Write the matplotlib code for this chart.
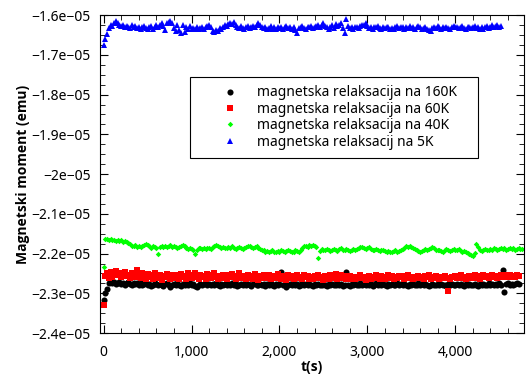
import numpy as np
import matplotlib
matplotlib.use("Agg")
import matplotlib.pyplot as plt
from matplotlib.ticker import FuncFormatter, MultipleLocator

plt.rcParams['font.family'] = ['Noto Sans', 'DejaVu Sans']
plt.rcParams['font.size'] = 10

# sampling step of the measurement, seconds
t_step = 20

labels = ["magnetska relaksacija na 160K", "magnetska relaksacija na 60K",
          "magnetska relaksacija na 40K", "magnetska relaksacij na 5K"]

# values in units of 1e-5 emu (one row = 200 s)
m_160K = [
    -2.316, -2.300, -2.290, -2.273, -2.270, -2.275, -2.272, -2.277, -2.274, -2.271,
    -2.276, -2.273, -2.278, -2.275, -2.272, -2.277, -2.279, -2.274, -2.276, -2.273,
    -2.278, -2.275, -2.280, -2.277, -2.274, -2.279, -2.276, -2.281, -2.278, -2.275,
    -2.277, -2.280, -2.276, -2.279, -2.282, -2.277, -2.275, -2.279, -2.285, -2.278,
    -2.276, -2.279, -2.274, -2.278, -2.281, -2.276, -2.279, -2.277, -2.280, -2.275,
    -2.278, -2.276, -2.282, -2.285, -2.279, -2.276, -2.280, -2.277, -2.274, -2.278,
    -2.276, -2.279, -2.277, -2.280, -2.275, -2.278, -2.281, -2.276, -2.279, -2.277,
    -2.280, -2.276, -2.278, -2.275, -2.279, -2.277, -2.281, -2.278, -2.276, -2.279,
    -2.277, -2.280, -2.276, -2.279, -2.282, -2.277, -2.275, -2.278, -2.280, -2.276,
    -2.279, -2.277, -2.281, -2.276, -2.278, -2.275, -2.279, -2.282, -2.277, -2.280,
    -2.276, -2.246, -2.279, -2.277, -2.283, -2.278, -2.276, -2.280, -2.277, -2.279,
    -2.276, -2.281, -2.278, -2.275, -2.279, -2.277, -2.280, -2.276, -2.278, -2.281,
    -2.277, -2.279, -2.276, -2.280, -2.278, -2.275, -2.279, -2.282, -2.277, -2.279,
    -2.276, -2.280, -2.278, -2.275, -2.279, -2.277, -2.281, -2.278, -2.246, -2.279,
    -2.282, -2.277, -2.279, -2.276, -2.280, -2.278, -2.275, -2.279, -2.277, -2.280,
    -2.276, -2.279, -2.277, -2.281, -2.278, -2.275, -2.279, -2.277, -2.280, -2.276,
    -2.278, -2.281, -2.277, -2.279, -2.276, -2.280, -2.278, -2.275, -2.279, -2.277,
    -2.280, -2.276, -2.278, -2.281, -2.277, -2.279, -2.276, -2.280, -2.278, -2.275,
    -2.279, -2.277, -2.280, -2.276, -2.278, -2.282, -2.279, -2.276, -2.278, -2.280,
    -2.277, -2.279, -2.276, -2.280, -2.278, -2.281, -2.277, -2.279, -2.276, -2.278,
    -2.280, -2.277, -2.279, -2.276, -2.278, -2.281, -2.277, -2.279, -2.276, -2.280,
    -2.278, -2.276, -2.279, -2.282, -2.277, -2.279, -2.276, -2.280, -2.278, -2.275,
    -2.279, -2.277, -2.280, -2.276, -2.278, -2.275, -2.279, -2.240, -2.296, -2.277,
    -2.275, -2.278, -2.276, -2.279, -2.277, -2.275, -2.277,
]
m_60K = [
    -2.328, -2.256, -2.250, -2.262, -2.247, -2.258, -2.252, -2.244, -2.255, -2.249,
    -2.260, -2.251, -2.246, -2.257, -2.253, -2.262, -2.248, -2.255, -2.259, -2.242,
    -2.254, -2.261, -2.250, -2.257, -2.264, -2.252, -2.259, -2.255, -2.263, -2.250,
    -2.258, -2.262, -2.253, -2.266, -2.256, -2.260, -2.251, -2.258, -2.265, -2.255,
    -2.261, -2.254, -2.259, -2.264, -2.252, -2.260, -2.257, -2.263, -2.250, -2.258,
    -2.262, -2.255, -2.248, -2.259, -2.264, -2.253, -2.260, -2.256, -2.263, -2.251,
    -2.258, -2.262, -2.254, -2.249, -2.259, -2.265, -2.256, -2.261, -2.253, -2.258,
    -2.264, -2.255, -2.260, -2.252, -2.258, -2.263, -2.257, -2.250, -2.261, -2.256,
    -2.259, -2.265, -2.254, -2.261, -2.257, -2.263, -2.252, -2.259, -2.266, -2.256,
    -2.261, -2.255, -2.262, -2.258, -2.253, -2.264, -2.259, -2.256, -2.262, -2.251,
    -2.258, -2.263, -2.256, -2.260, -2.266, -2.254, -2.261, -2.257, -2.263, -2.259,
    -2.255, -2.262, -2.258, -2.264, -2.253, -2.260, -2.256, -2.263, -2.259, -2.265,
    -2.257, -2.261, -2.254, -2.262, -2.258, -2.266, -2.256, -2.260, -2.264, -2.255,
    -2.261, -2.258, -2.252, -2.263, -2.259, -2.255, -2.262, -2.257, -2.264, -2.260,
    -2.256, -2.263, -2.259, -2.265, -2.258, -2.261, -2.255, -2.262, -2.258, -2.266,
    -2.260, -2.256, -2.263, -2.258, -2.262, -2.255, -2.261, -2.264, -2.257, -2.260,
    -2.263, -2.258, -2.254, -2.261, -2.257, -2.264, -2.259, -2.262, -2.256, -2.260,
    -2.257, -2.263, -2.260, -2.255, -2.262, -2.258, -2.265, -2.259, -2.261, -2.256,
    -2.262, -2.258, -2.264, -2.257, -2.260, -2.255, -2.263, -2.259, -2.261, -2.257,
    -2.260, -2.264, -2.258, -2.262, -2.256, -2.261, -2.295, -2.263, -2.258, -2.260,
    -2.257, -2.262, -2.259, -2.255, -2.261, -2.258, -2.264, -2.260, -2.256, -2.262,
    -2.259, -2.255, -2.261, -2.257, -2.263, -2.258, -2.254, -2.260, -2.256, -2.262,
    -2.258, -2.253, -2.260, -2.256, -2.261, -2.257, -2.254, -2.259, -2.255, -2.260,
    -2.257, -2.254, -2.259, -2.256, -2.258, -2.255, -2.257,
]
m_40K = [
    -2.234, -2.162, -2.164, -2.166, -2.163, -2.167, -2.165, -2.168, -2.166, -2.169,
    -2.167, -2.170, -2.168, -2.171, -2.173, -2.176, -2.180, -2.182, -2.179, -2.183,
    -2.181, -2.184, -2.180, -2.178, -2.176, -2.179, -2.182, -2.185, -2.181, -2.183,
    -2.186, -2.200, -2.184, -2.181, -2.183, -2.180, -2.184, -2.182, -2.179, -2.183,
    -2.181, -2.184, -2.186, -2.183, -2.180, -2.178, -2.182, -2.185, -2.188, -2.186,
    -2.189, -2.192, -2.201, -2.190, -2.187, -2.185, -2.188, -2.186, -2.189, -2.187,
    -2.185, -2.188, -2.184, -2.182, -2.179, -2.181, -2.184, -2.186, -2.183, -2.185,
    -2.187, -2.184, -2.186, -2.182, -2.185, -2.188, -2.186, -2.183, -2.187, -2.189,
    -2.186, -2.184, -2.182, -2.180, -2.183, -2.186, -2.184, -2.181, -2.185, -2.188,
    -2.190, -2.192, -2.195, -2.193, -2.196, -2.194, -2.192, -2.195, -2.197, -2.193,
    -2.195, -2.192, -2.194, -2.196, -2.193, -2.190, -2.194, -2.197, -2.195, -2.192,
    -2.194, -2.196, -2.190, -2.186, -2.182, -2.180, -2.183, -2.179, -2.181, -2.178,
    -2.182, -2.184, -2.210, -2.194, -2.189, -2.192, -2.190, -2.188, -2.191, -2.193,
    -2.190, -2.188, -2.191, -2.193, -2.189, -2.187, -2.190, -2.192, -2.189, -2.191,
    -2.193, -2.190, -2.188, -2.191, -2.189, -2.186, -2.184, -2.183, -2.186, -2.189,
    -2.187, -2.184, -2.188, -2.190, -2.192, -2.189, -2.191, -2.194, -2.190, -2.192,
    -2.194, -2.196, -2.193, -2.195, -2.197, -2.194, -2.192, -2.195, -2.193, -2.190,
    -2.188, -2.185, -2.182, -2.184, -2.180, -2.183, -2.186, -2.189, -2.192, -2.194,
    -2.196, -2.193, -2.190, -2.188, -2.191, -2.189, -2.186, -2.184, -2.187, -2.190,
    -2.192, -2.190, -2.193, -2.195, -2.191, -2.188, -2.190, -2.193, -2.191, -2.189,
    -2.190, -2.192, -2.189, -2.193, -2.196, -2.194, -2.197, -2.199, -2.201, -2.203,
    -2.207, -2.198, -2.176, -2.184, -2.190, -2.193, -2.191, -2.189, -2.192, -2.190,
    -2.188, -2.190, -2.187, -2.189, -2.191, -2.188, -2.186, -2.189, -2.187, -2.190,
    -2.188, -2.186, -2.189, -2.187, -2.190, -2.188, -2.186, -2.189, -2.188,
]
m_5K = [
    -1.676, -1.660, -1.648, -1.632, -1.626, -1.628, -1.620, -1.616, -1.619, -1.624,
    -1.628, -1.625, -1.631, -1.627, -1.629, -1.633, -1.626, -1.630, -1.628, -1.632,
    -1.629, -1.634, -1.630, -1.627, -1.633, -1.635, -1.631, -1.628, -1.634, -1.629,
    -1.626, -1.630, -1.624, -1.621, -1.628, -1.637, -1.620, -1.617, -1.614, -1.619,
    -1.632, -1.641, -1.624, -1.638, -1.645, -1.626, -1.643, -1.630, -1.636, -1.628,
    -1.634, -1.632, -1.636, -1.631, -1.635, -1.633, -1.630, -1.634, -1.629, -1.627,
    -1.624, -1.631, -1.641, -1.643, -1.637, -1.640, -1.632, -1.634, -1.629, -1.626,
    -1.628, -1.622, -1.619, -1.623, -1.617, -1.626, -1.630, -1.633, -1.628, -1.632,
    -1.634, -1.630, -1.628, -1.633, -1.631, -1.627, -1.629, -1.625, -1.621, -1.624,
    -1.629, -1.633, -1.631, -1.635, -1.632, -1.628, -1.634, -1.631, -1.636, -1.630,
    -1.632, -1.629, -1.634, -1.631, -1.628, -1.633, -1.630, -1.635, -1.631, -1.638,
    -1.644, -1.633, -1.630, -1.628, -1.632, -1.634, -1.629, -1.631, -1.627, -1.633,
    -1.630, -1.627, -1.625, -1.629, -1.624, -1.621, -1.627, -1.631, -1.634, -1.629,
    -1.626, -1.632, -1.622, -1.628, -1.625, -1.619, -1.633, -1.645, -1.611, -1.628,
    -1.632, -1.630, -1.634, -1.629, -1.631, -1.633, -1.628, -1.626, -1.624, -1.620,
    -1.628, -1.633, -1.630, -1.634, -1.629, -1.631, -1.627, -1.632, -1.635, -1.630,
    -1.633, -1.629, -1.631, -1.636, -1.632, -1.634, -1.630, -1.628, -1.633, -1.631,
    -1.629, -1.634, -1.630, -1.632, -1.628, -1.633, -1.631, -1.635, -1.630, -1.627,
    -1.631, -1.634, -1.632, -1.629, -1.635, -1.637, -1.641, -1.633, -1.630, -1.632,
    -1.628, -1.631, -1.634, -1.630, -1.633, -1.629, -1.632, -1.635, -1.630, -1.628,
    -1.631, -1.629, -1.633, -1.630, -1.628, -1.632, -1.634, -1.629, -1.631, -1.633,
    -1.630, -1.628, -1.632, -1.629, -1.634, -1.631, -1.636, -1.630, -1.627, -1.633,
    -1.629, -1.626, -1.631, -1.628, -1.625, -1.630, -1.628,
]

series = [m_160K, m_60K, m_40K, m_5K]
colors = ["black", "#ff0000", "#00ff00", "#0000ff"]
markers = ["o", "s", "D", "^"]
sizes = [4.4, 5.0, 2.8, 3.8]

fig = plt.figure(figsize=(5.27, 3.76), dpi=100)
ax = fig.add_axes([0.190, 0.114, 0.804, 0.846])

for vals, c, mk, ms, lab in zip(series, colors, markers, sizes, labels):
    t = np.arange(len(vals)) * t_step
    ax.plot(t, np.array(vals) * 1e-5, linestyle="none", marker=mk, ms=ms,
            color=c, markeredgewidth=0, label=lab)

ax.set_xlim(-40, 4780)
ax.set_ylim(-2.4e-5, -1.6e-5)
ax.xaxis.set_major_locator(MultipleLocator(1000))
ax.xaxis.set_minor_locator(MultipleLocator(200))
ax.yaxis.set_major_locator(MultipleLocator(1e-6))
ax.yaxis.set_minor_locator(MultipleLocator(2.5e-7))
ax.xaxis.set_major_formatter(FuncFormatter(lambda v, p: "{:,.0f}".format(v)))
ax.yaxis.set_major_formatter(FuncFormatter(lambda v, p: ("%g" % v).replace("-", "\u2212")))
ax.tick_params(which="both", direction="in", top=True, right=True, labelsize=10)
ax.tick_params(which="major", length=6)
ax.tick_params(which="minor", length=3.5)
ax.tick_params(axis="x", pad=8.5)
ax.tick_params(axis="y", pad=7)

ax.set_xlabel("t(s)", fontweight="bold", family=["Open Sans", "DejaVu Sans"], labelpad=0)
ax.set_ylabel("Magnetski moment (emu)", fontweight="bold",
              family=["Open Sans", "DejaVu Sans"], labelpad=1)

leg = ax.legend(loc="upper left", bbox_to_anchor=(0.212, 0.5, 0.679, 0.305),
                mode="expand", borderaxespad=0, fancybox=False, numpoints=1,
                edgecolor="black", framealpha=1, handlelength=4.5, handletextpad=-0.3,
                borderpad=0.6, labelspacing=0.1)
leg.get_frame().set_linewidth(0.8)

fig.savefig("out.png", dpi=100)
